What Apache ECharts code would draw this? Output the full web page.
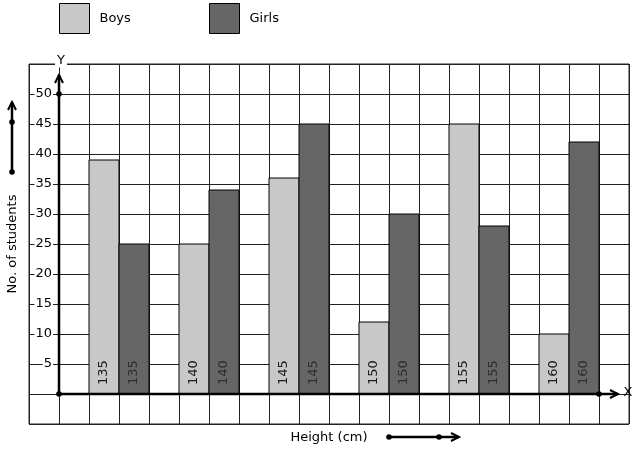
<!DOCTYPE html>
<html><head><meta charset="utf-8">
<script src="https://cdn.jsdelivr.net/npm/echarts@6/dist/echarts.min.js"></script>
<style>html,body{margin:0;padding:0;background:#fff}#c{width:637px;height:450px}</style>
</head><body><div id="c"></div>
<script>
// ---- data ----
const heights = ['135', '140', '145', '150', '155', '160'];
const boys = [39, 25, 36, 12, 45, 10];
const girls = [25, 34, 45, 30, 28, 42];
const yTicks = [5, 10, 15, 20, 25, 30, 35, 40, 45, 50];
const seriesNames = ['Boys', 'Girls'];

const FONT = 'DejaVu Sans';
const chart = echarts.init(document.getElementById('c'), null, {renderer: 'canvas'});

// each height group occupies 3 grid cells: boys cell, girls cell, empty cell
function barData(vals, offset) {
  return vals.map((v, i) => [1 + 3 * i + offset, v, i]);
}

function makeRender(labelColor) {
  return function (params, api) {
    const x = api.value(0), y = api.value(1);
    const p0 = api.coord([x, y]);
    const p1 = api.coord([x + 1, 0]);
    return {
      type: 'group',
      children: [
        {type: 'rect', shape: {x: p0[0], y: p0[1], width: p1[0] - p0[0], height: p1[1] - p0[1]},
         style: {fill: api.visual('color'), stroke: '#000', lineWidth: 1}},
        {type: 'text', x: (p0[0] + p1[0]) / 2, y: p1[1] - 9, rotation: Math.PI / 2,
         style: {text: heights[api.value(2)], fill: labelColor, font: '13px "' + FONT + '"',
                 align: 'left', verticalAlign: 'middle'}}
      ]
    };
  };
}

const legendCommon = {
  padding: 0, itemWidth: 30, itemHeight: 30, icon: 'rect',
  itemStyle: {borderColor: '#000', borderWidth: 1},
  textStyle: {fontFamily: FONT, fontSize: 13, color: '#000', padding: [0, 0, 0, 5]}
};

const option = {
  animation: false,
  backgroundColor: '#fff',
  grid: {left: 29, right: 8, top: 64, bottom: 26, containLabel: false, outerBoundsMode: 'none',
         show: true, borderColor: '#222', borderWidth: 1},
  legend: [
    Object.assign({data: [seriesNames[0]], left: 59, top: 3}, legendCommon),
    Object.assign({data: [seriesNames[1]], left: 209, top: 3}, legendCommon)
  ],
  xAxis: {
    type: 'value', min: -1, max: 19, interval: 1, position: 'bottom', offset: -30,
    axisLine: {show: false, onZero: false}, axisTick: {show: false}, axisLabel: {show: false},
    splitLine: {show: true, lineStyle: {color: '#222', width: 1}},
    name: 'Height (cm)', nameLocation: 'middle', nameGap: 37,
    nameTextStyle: {fontFamily: FONT, fontSize: 13, color: '#000'}
  },
  yAxis: {
    type: 'value', min: -5, max: 55, interval: 5, position: 'left', offset: -30,
    axisLine: {show: false, onZero: false}, axisTick: {show: false},
    splitLine: {show: true, lineStyle: {color: '#222', width: 1}},
    axisLabel: {
      formatter: v => (yTicks.indexOf(v) >= 0 ? String(v) : ''),
      fontFamily: FONT, fontSize: 13, color: '#000', margin: 6,
      backgroundColor: '#fff', padding: [0, 1, 0, 1]
    },
    name: 'No. of students', nameLocation: 'middle', nameGap: 40,
    nameTextStyle: {fontFamily: FONT, fontSize: 13, color: '#000'}
  },
  series: [
    {name: seriesNames[0], type: 'custom', data: barData(boys, 0), itemStyle: {color: '#c8c8c8'},
     encode: {x: 0, y: 1}, renderItem: makeRender('#1a1a1a'), z: 3},
    {name: seriesNames[1], type: 'custom', data: barData(girls, 1), itemStyle: {color: '#666666'},
     encode: {x: 0, y: 1}, renderItem: makeRender('#2e2e2e'), z: 3}
  ]
};
chart.setOption(option);

// ---- decorations (axes with arrows, letters, side arrows) ----
const px = (x, y) => chart.convertToPixel({gridIndex: 0}, [x, y]);
const o = px(0, 0), p50 = px(0, 50), pX = px(18, 0);
const blk = {stroke: '#000', lineWidth: 2.5, fill: null};
const thin = {stroke: '#000', lineWidth: 2, fill: null};
function dot(x, y) { return {type: 'circle', shape: {cx: x, cy: y, r: 2.8}, style: {fill: '#000'}, z: 10}; }
function line(x1, y1, x2, y2, st) { return {type: 'line', shape: {x1, y1, x2, y2}, style: st || blk, z: 10}; }
function upArrow(x, tip) { return {type: 'polyline', shape: {points: [[x - 4, tip + 8], [x, tip], [x + 4, tip + 8]]}, style: thin, z: 10}; }
function rightArrow(tip, y) { return {type: 'polyline', shape: {points: [[tip - 8, y - 4], [tip, y], [tip - 8, y + 4]]}, style: thin, z: 10}; }

const yTip = p50[1] - 19, xTip = pX[0] + 19;
const gfx = [
  line(o[0], o[1], o[0], yTip), upArrow(o[0], yTip), dot(o[0], o[1]), dot(p50[0], p50[1]),
  line(o[0], o[1], xTip, o[1]), rightArrow(xTip, o[1]), dot(pX[0], pX[1]),
  {type: 'text', x: o[0] + 2, y: 61, style: {text: 'Y', font: '13px "' + FONT + '"', fill: '#000',
    align: 'center', verticalAlign: 'middle', backgroundColor: '#fff', padding: [0, 2, 0, 2]}, z: 11},
  {type: 'text', x: 628, y: o[1] - 1, style: {text: 'X', font: '13px "' + FONT + '"', fill: '#000',
    align: 'center', verticalAlign: 'middle'}, z: 11},
  // side arrow next to y title
  line(12, 172, 12, 102), upArrow(12, 102), dot(12, 172), dot(12, 122),
  // arrow next to x title
  line(389, 437, 459, 437), rightArrow(459, 437), dot(389, 437), dot(439, 437)
];
chart.setOption({graphic: {elements: gfx}});
</script>
</body></html>
